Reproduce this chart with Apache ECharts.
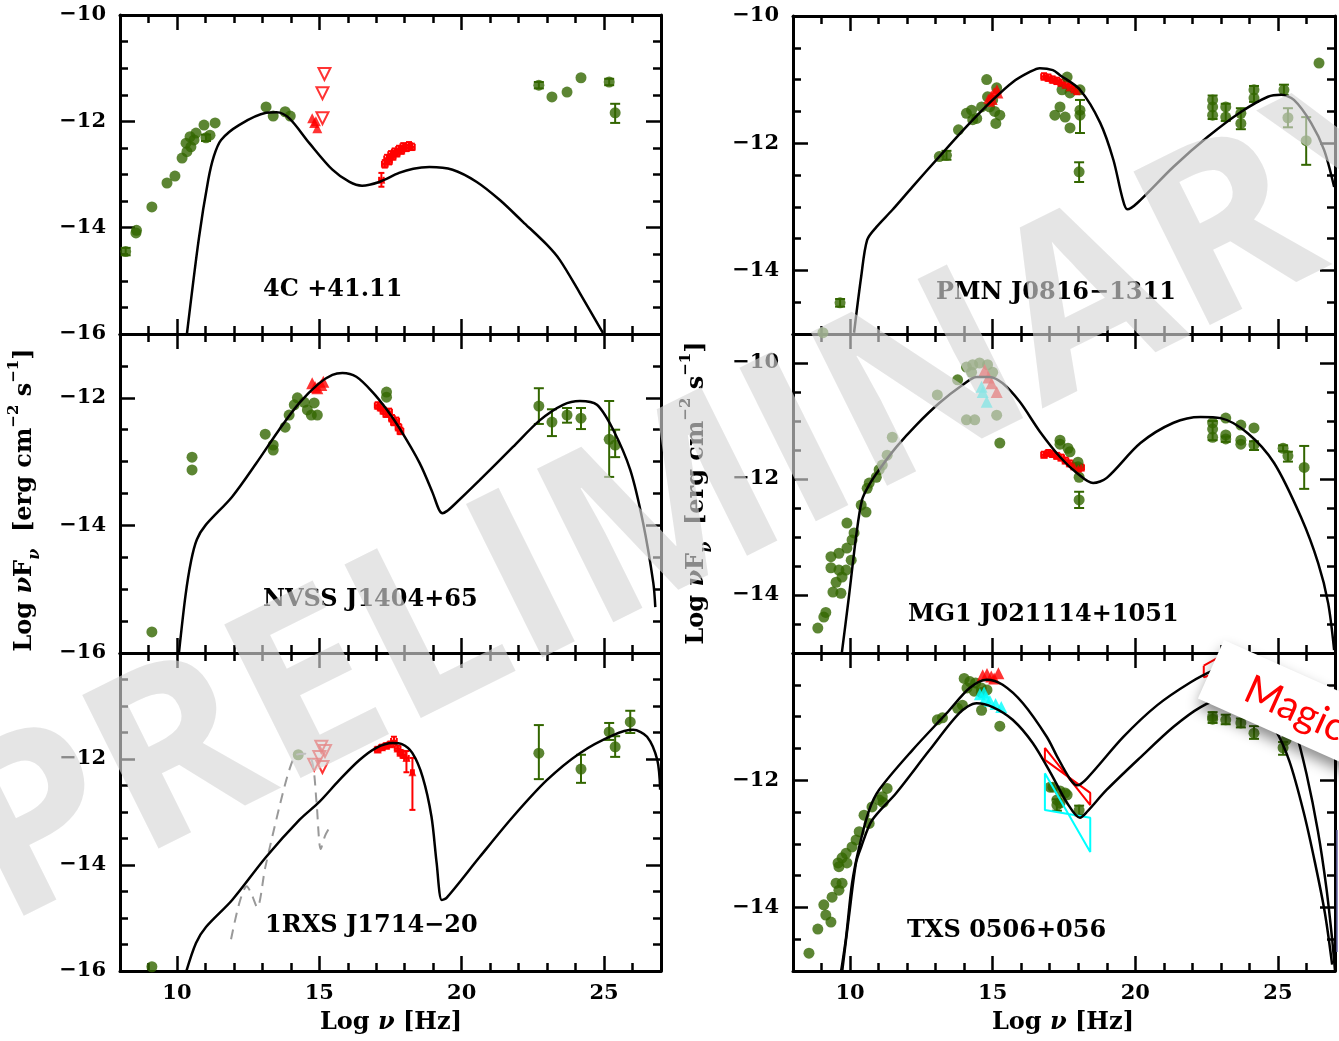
<!DOCTYPE html>
<html><head><meta charset="utf-8">
<script src="https://cdn.jsdelivr.net/npm/echarts@6/dist/echarts.min.js"></script>
<style>html,body{margin:0;padding:0;background:#fff}#c{width:1339px;height:1041px}</style>
</head><body><div id="c"></div>
<script>
// ---------- tick values ----------
const X_MAJOR = [10, 15, 20, 25];
const X_MINOR = [9, 11, 12, 13, 14, 16, 17, 18, 19, 21, 22, 23, 24, 26];
const Y_MAJOR_16_10 = [-16, -14, -12, -10];
const Y_MINOR_16_10 = [-15.5, -15, -14.5, -13.5, -13, -12.5, -11.5, -11, -10.5];
const Y_MAJOR_16_11 = [-16, -14, -12];
const Y_MINOR_16_11 = [-15.5, -15, -14.5, -13.5, -13, -12.5, -11.5];
const Y_MAJOR_15 = [-14, -12, -10];
const Y_MINOR_15 = [-14.5, -13.5, -13, -12.5, -11.5, -11, -10.5];
const LABELS_L1 = [-16, -14, -12, -10];
const LABELS_L2 = [-16, -14, -12];
const LABELS_L3 = [-16, -14, -12];
const LABELS_R1 = [-14, -12, -10];
const LABELS_R2 = [-14, -12, -10];
const LABELS_R3 = [-14, -12];
const NAMES = ['4C +41.11', 'NVSS J1404+65', '1RXS J1714\u221220', 'PMN J0816\u22121311', 'MG1 J021114+1051', 'TXS 0506+056'];

// ---------- panel 1: 4C +41.11 ----------
const p1_model = [[10.35,-16.0],[10.77,-14.2],[11.1,-13.1],[11.3,-12.65],[11.55,-12.35],[12.18,-12.07],[13.13,-11.84],[13.5,-11.83],[13.94,-11.94],[14.65,-12.41],[15.46,-12.91],[16.06,-13.14],[16.5,-13.21],[17.1,-13.14],[17.8,-12.97],[18.3,-12.89],[18.87,-12.86],[19.68,-12.91],[20.53,-13.14],[21.34,-13.48],[22.15,-13.89],[22.99,-14.32],[23.45,-14.61],[24.15,-15.23],[24.96,-15.98]];
const p1_green = [[8.20,-14.45],[8.56,-14.10],[8.58,-14.05],[9.12,-13.61],[9.65,-13.16],[9.93,-13.03],[10.18,-12.69],[10.35,-12.57],[10.32,-12.41],[10.49,-12.48],[10.46,-12.29],[10.67,-12.22],[10.60,-12.35],[10.95,-12.07],[11.02,-12.31],[11.16,-12.26],[11.34,-12.03],[13.13,-11.73],[13.38,-11.90],[13.80,-11.82],[13.98,-11.90],[22.71,-11.32],[23.17,-11.54],[23.70,-11.45],[24.19,-11.18],[25.18,-11.26],[25.39,-11.84]];
const p1_greenErr = [[8.20,-14.38,-14.52],[11.02,-12.25,-12.37],[22.71,-11.26,-11.38],[25.18,-11.20,-11.32],[25.39,-11.67,-12.03]];
const p1_redLim = [[15.18,-11.11],[15.11,-11.47],[15.11,-11.94]];
const p1_redTri = [[14.75,-11.94],[14.82,-12.03],[14.93,-12.13],[14.88,-12.0]];
const p1_xray = [[17.18,-13.10,0.08,-12.97,-13.23],[17.30,-12.80,0.1,-12.73,-12.87],[17.38,-12.70,0.1,-12.63,-12.77],[17.45,-12.74,0.1,-12.67,-12.81],[17.52,-12.62,0.1,-12.56,-12.68],[17.58,-12.66,0.1,-12.60,-12.72],[17.65,-12.57,0.1,-12.51,-12.63],[17.72,-12.60,0.1,-12.54,-12.66],[17.80,-12.52,0.1,-12.46,-12.58],[17.88,-12.55,0.1,-12.49,-12.61],[17.95,-12.47,0.1,-12.41,-12.53],[18.05,-12.50,0.1,-12.44,-12.56],[18.15,-12.45,0.1,-12.39,-12.51],[18.25,-12.48,0.1,-12.42,-12.54]];

// ---------- panel 2: NVSS J1404+65 ----------
const p2_model = [[10.07,-16.0],[10.3,-15.1],[10.5,-14.55],[10.7,-14.22],[11.0,-14.0],[11.94,-13.55],[12.78,-13.03],[13.59,-12.50],[14.30,-12.08],[15.0,-11.77],[15.46,-11.64],[15.81,-11.61],[16.30,-11.67],[16.87,-11.91],[17.36,-12.18],[17.82,-12.48],[18.52,-13.02],[18.98,-13.49],[19.2,-13.75],[19.33,-13.81],[19.5,-13.77],[19.68,-13.70],[20.63,-13.29],[21.80,-12.77],[22.75,-12.35],[23.56,-12.11],[24.15,-12.05],[24.75,-12.11],[25.32,-12.50],[25.92,-13.13],[26.37,-13.96],[26.73,-14.90],[26.80,-15.28]];
const p2_green = [[9.12,-15.67],[10.53,-12.93],[10.53,-13.13],[13.10,-12.57],[13.38,-12.74],[13.38,-12.82],[13.80,-12.46],[13.94,-12.27],[14.12,-12.11],[14.23,-12.0],[14.47,-12.07],[14.58,-12.19],[14.82,-12.08],[14.93,-12.27],[14.72,-12.27],[17.36,-11.91],[17.36,-11.99],[22.71,-12.13],[23.17,-12.38],[23.70,-12.27],[24.19,-12.32],[25.18,-12.65],[25.39,-12.74]];
const p2_greenErr = [[22.71,-11.85,-12.41],[23.17,-12.18,-12.60],[23.70,-12.16,-12.39],[24.19,-12.16,-12.49],[25.18,-12.05,-13.24],[25.39,-12.50,-12.93]];
const p2_redTri = [[14.75,-11.77],[15.07,-11.80],[14.93,-11.85],[15.14,-11.75],[14.85,-11.83]];
const p2_xray = [[17.05,-12.12,0.1,-12.07,-12.17],[17.15,-12.15,0.1,-12.10,-12.20],[17.25,-12.20,0.1,-12.15,-12.25],[17.35,-12.25,0.1,-12.20,-12.30],[17.45,-12.22,0.1,-12.17,-12.27],[17.55,-12.32,0.1,-12.27,-12.37],[17.62,-12.38,0.1,-12.33,-12.43],[17.70,-12.36,0.1,-12.31,-12.41],[17.78,-12.46,0.1,-12.41,-12.51],[17.85,-12.52,0.1,-12.47,-12.57]];

// ---------- panel 3: 1RXS J1714-20 ----------
const p3_model = [[10.32,-16.02],[10.67,-15.47],[11.02,-15.17],[11.94,-14.66],[13.13,-13.85],[14.30,-13.15],[15.0,-12.81],[15.70,-12.40],[16.41,-12.02],[17.0,-11.79],[17.57,-11.70],[17.9,-11.72],[18.27,-11.89],[18.63,-12.34],[18.94,-13.09],[19.12,-13.96],[19.30,-14.66],[19.47,-14.62],[20.63,-13.85],[21.80,-13.09],[22.99,-12.40],[24.15,-11.89],[25.32,-11.55],[26.02,-11.45],[26.51,-11.58],[26.87,-12.02],[26.97,-12.58]];
const p3_dash = [[11.9,-15.4],[12.2,-14.7],[12.45,-14.4],[12.62,-14.55],[12.82,-14.8],[13.1,-14.05],[13.6,-12.9],[13.95,-12.2],[14.2,-11.92],[14.5,-11.9],[14.75,-12.05],[14.9,-12.8],[15.05,-13.7],[15.2,-13.45],[15.35,-13.3]];
const p3_green = [[9.12,-15.92],[14.26,-11.92],[22.71,-11.89],[24.19,-12.19],[25.18,-11.49],[25.39,-11.77],[25.92,-11.30]];
const p3_greenErr = [[22.71,-11.36,-12.38],[24.19,-11.92,-12.45],[25.18,-11.32,-11.64],[25.39,-11.57,-11.96],[25.92,-11.09,-11.51]];
const p3_redLim = [[15.07,-11.77],[15.0,-11.96],[15.11,-12.15],[14.82,-12.11],[15.2,-11.85]];
const p3_xray = [[17.05,-11.82,0.1,-11.77,-11.87],[17.2,-11.78,0.1,-11.73,-11.83],[17.35,-11.75,0.1,-11.70,-11.80],[17.5,-11.72,0.1,-11.67,-11.77],[17.62,-11.66,0.1,-11.58,-11.72],[17.75,-11.80,0.1,-11.75,-11.85],[17.85,-11.88,0.1,-11.83,-11.93],[17.95,-11.92,0.1,-11.86,-11.98],[18.06,-11.98,0.08,-11.85,-12.25],[18.27,-12.25,0.05,-11.98,-12.96]];

// ---------- panel 4: PMN J0816-1311 ----------
const r1_model = [[10.14,-14.98],[10.39,-14.10],[10.60,-13.52],[10.92,-13.32],[11.48,-13.05],[12.18,-12.69],[13.13,-12.21],[14.08,-11.74],[15.0,-11.32],[15.70,-11.04],[16.30,-10.88],[16.65,-10.82],[17.11,-10.85],[17.36,-10.93],[18.06,-11.16],[18.77,-11.68],[19.23,-12.26],[19.54,-12.85],[19.72,-13.04],[20.07,-12.94],[21.34,-12.37],[22.54,-11.90],[23.70,-11.51],[24.65,-11.27],[25.11,-11.24],[25.56,-11.32],[26.16,-11.68],[26.62,-12.11],[26.97,-12.69]];
const r1_green = [[9.05,-14.98],[9.65,-14.51],[13.13,-12.21],[13.38,-12.19],[13.80,-11.79],[14.08,-11.53],[14.26,-11.48],[14.44,-11.61],[14.61,-11.43],[14.79,-11.0],[14.82,-11.27],[15.0,-11.32],[15.07,-11.50],[15.14,-11.13],[15.25,-11.56],[15.11,-11.69],[14.89,-11.43],[14.30,-11.63],[17.61,-10.96],[17.43,-11.16],[17.71,-11.21],[18.06,-11.16],[17.36,-11.43],[17.18,-11.56],[17.54,-11.59],[17.71,-11.76],[18.06,-11.48],[18.06,-11.56],[18.03,-12.45],[22.71,-11.32],[22.71,-11.56],[22.71,-11.43],[23.17,-11.43],[23.17,-11.59],[23.70,-11.53],[23.70,-11.69],[24.16,-11.16],[24.16,-11.29],[25.21,-11.16],[25.35,-11.60],[25.99,-11.96],[26.44,-10.74]];
const r1_greenErr = [[9.65,-14.45,-14.57],[13.38,-12.12,-12.26],[18.06,-11.32,-11.84],[18.03,-12.30,-12.61],[22.71,-11.25,-11.62],[23.17,-11.38,-11.65],[23.70,-11.45,-11.78],[24.16,-11.10,-11.35],[25.21,-11.08,-11.24],[25.35,-11.45,-11.75],[25.99,-11.59,-12.34]];
const r1_redTri = [[14.85,-11.30],[14.95,-11.25],[15.05,-11.20],[15.15,-11.15],[15.0,-11.32],[15.2,-11.22],[14.9,-11.35]];
const r1_xray = [[16.8,-10.95,0.1,-10.90,-11.00],[16.95,-10.97,0.1,-10.92,-11.02],[17.1,-11.0,0.1,-10.95,-11.05],[17.25,-11.02,0.1,-10.97,-11.07],[17.4,-11.05,0.1,-11.00,-11.10],[17.55,-11.08,0.1,-11.03,-11.13],[17.7,-11.12,0.1,-11.07,-11.17],[17.85,-11.15,0.1,-11.10,-11.20],[17.95,-11.18,0.1,-11.13,-11.23]];

// ---------- panel 5: MG1 J021114+1051 ----------
const r2_model = [[9.68,-15.12],[9.96,-14.03],[10.21,-13.0],[10.42,-12.36],[10.67,-12.10],[11.02,-11.84],[11.62,-11.45],[12.32,-11.07],[13.13,-10.69],[13.94,-10.38],[14.44,-10.24],[14.89,-10.24],[15.35,-10.35],[15.95,-10.67],[16.65,-11.18],[17.36,-11.62],[17.96,-11.90],[18.52,-12.07],[19.0,-11.98],[20.18,-11.38],[21.34,-11.03],[22.29,-10.93],[22.99,-10.95],[23.94,-11.21],[24.86,-11.72],[25.81,-12.66],[26.41,-13.45],[26.76,-14.14],[26.97,-14.95]];
const r2_green = [[8.87,-14.57],[9.08,-14.38],[9.15,-14.30],[9.40,-13.95],[9.68,-13.97],[9.51,-13.78],[9.72,-13.69],[9.61,-13.57],[9.86,-13.57],[9.33,-13.53],[9.33,-13.34],[9.61,-13.28],[9.89,-13.19],[10.04,-13.40],[10.07,-13.05],[10.14,-12.93],[10.60,-12.16],[10.67,-12.07],[10.92,-11.97],[11.02,-11.84],[11.13,-11.76],[9.89,-12.76],[10.39,-12.45],[10.56,-12.57],[11.30,-11.59],[11.48,-11.28],[13.06,-10.55],[13.77,-10.29],[14.08,-10.07],[14.30,-10.03],[14.54,-10.0],[14.82,-10.03],[15.0,-10.16],[14.26,-10.16],[14.08,-10.98],[14.37,-10.98],[15.14,-10.90],[15.25,-11.38],[17.36,-11.33],[17.36,-11.40],[17.64,-11.47],[17.71,-11.53],[17.99,-11.71],[17.99,-11.79],[18.03,-11.97],[18.03,-12.36],[22.71,-11.03],[22.71,-11.14],[22.71,-11.28],[23.17,-10.95],[23.17,-11.24],[23.17,-11.31],[23.70,-11.07],[23.70,-11.33],[23.70,-11.40],[24.16,-11.12],[24.16,-11.41],[25.18,-11.47],[25.35,-11.60],[25.92,-11.80]];
const r2_greenErr = [[18.03,-12.22,-12.50],[22.71,-11.0,-11.33],[23.17,-11.27,-11.36],[24.16,-11.35,-11.50],[25.18,-11.42,-11.52],[25.35,-11.53,-11.70],[25.92,-11.43,-12.17]];
const r2_redTri = [[14.72,-10.12],[14.96,-10.35],[15.14,-10.50],[14.85,-10.25]];
const r2_cyanTri = [[14.61,-10.41],[14.65,-10.50],[14.79,-10.67]];
const r2_xray = [[16.8,-11.58,0.1,-11.53,-11.63],[16.95,-11.55,0.1,-11.50,-11.60],[17.1,-11.57,0.1,-11.52,-11.62],[17.25,-11.60,0.1,-11.55,-11.65],[17.4,-11.63,0.1,-11.58,-11.68],[17.55,-11.68,0.1,-11.63,-11.73],[17.7,-11.73,0.1,-11.68,-11.78],[17.85,-11.78,0.1,-11.73,-11.83],[18.0,-11.82,0.1,-11.77,-11.87],[18.1,-11.80,0.1,-11.75,-11.85]];

// ---------- panel 6: TXS 0506+056 ----------
const r3_modelHigh = [[9.68,-15.02],[9.86,-14.47],[10.07,-13.62],[10.32,-13.05],[10.67,-12.47],[11.02,-12.15],[12.18,-11.53],[13.38,-10.95],[14.19,-10.55],[14.79,-10.42],[15.35,-10.50],[16.06,-10.79],[16.90,-11.32],[17.25,-11.62],[17.71,-11.98],[17.96,-12.08],[18.31,-11.97],[19.58,-11.32],[20.77,-10.82],[21.94,-10.46],[22.75,-10.27],[23.6,-10.12],[24.4,-10.2],[25.1,-10.6],[25.6,-11.2],[26.0,-11.9],[26.4,-12.8],[26.7,-13.7],[26.9,-14.5],[27.0,-15.0]];
const r3_modelLow = [[9.72,-15.02],[9.96,-14.15],[10.21,-13.30],[10.39,-13.05],[10.77,-12.63],[11.62,-12.20],[12.78,-11.53],[13.84,-10.94],[14.44,-10.79],[15.0,-10.85],[15.70,-11.05],[16.41,-11.42],[17.11,-11.95],[17.6,-12.35],[18.06,-12.59],[18.3,-12.5],[19.0,-12.15],[20.18,-11.64],[21.34,-11.16],[22.29,-10.85],[22.99,-10.74],[23.7,-10.78],[24.4,-10.95],[24.9,-11.2],[25.4,-11.7],[25.9,-12.5],[26.3,-13.3],[26.65,-14.1],[26.9,-14.9]];
const r3_green = [[8.56,-14.72],[8.87,-14.34],[9.15,-14.12],[9.33,-14.23],[9.08,-13.96],[9.37,-13.84],[9.61,-13.73],[9.51,-13.62],[9.72,-13.62],[9.61,-13.36],[9.72,-13.22],[9.58,-13.30],[9.86,-13.15],[9.89,-13.30],[10.07,-13.05],[10.21,-12.94],[10.32,-12.81],[10.49,-12.55],[10.67,-12.68],[10.77,-12.42],[11.02,-12.31],[11.13,-12.26],[11.30,-12.13],[11.16,-12.35],[13.06,-11.05],[13.24,-11.02],[13.77,-10.87],[13.94,-10.82],[14.0,-10.40],[14.2,-10.45],[14.4,-10.47],[14.6,-10.55],[14.1,-10.55],[14.35,-10.6],[14.6,-10.62],[14.8,-10.58],[14.61,-10.90],[15.25,-11.15],[17.01,-12.11],[17.11,-12.11],[17.25,-12.31],[17.25,-12.39],[17.36,-12.36],[17.36,-12.17],[17.54,-12.20],[17.61,-12.23],[18.03,-12.47],[22.71,-11.0],[22.71,-11.04],[23.17,-11.05],[23.70,-11.10],[24.16,-11.26],[25.28,-11.37],[25.18,-11.49]];
const r3_greenErr = [[17.25,-12.30,-12.48],[18.03,-12.40,-12.55],[22.71,-10.93,-11.10],[23.17,-10.97,-11.12],[23.70,-11.03,-11.17],[24.16,-11.15,-11.35],[25.18,-11.40,-11.60]];
const r3_redTri = [[14.65,-10.35],[14.8,-10.33],[14.95,-10.37],[15.2,-10.32],[15.05,-10.40]];
const r3_cyanTri = [[14.55,-10.65],[14.75,-10.70],[14.9,-10.75],[15.1,-10.80],[15.3,-10.85],[14.7,-10.62]];
const r3_bowRed = [[16.83,-11.49],[18.42,-12.39],[18.42,-12.20],[16.83,-11.68],[16.83,-11.49]];
const r3_bowCyan = [[16.83,-11.89],[18.42,-13.13],[18.42,-12.59],[16.83,-12.47],[16.83,-11.89]];
const r3_bowGamma = [[22.4,-10.2],[23.0,-10.05],[23.0,-10.3],[22.4,-10.38],[22.4,-10.2]];

// ---------- styling ----------
const FONT = 'DejaVu Serif';
const GREEN = '#336600', RED = '#ff0000', CYAN = '#00ffff';

const panels = [
  {left:120, top:15,  width:541, height:319, ymin:-16, ymax:-10, maj:Y_MAJOR_16_10, min:Y_MINOR_16_10, lab:LABELS_L1, showX:false},
  {left:120, top:334, width:541, height:319, ymin:-16, ymax:-11, maj:Y_MAJOR_16_11, min:Y_MINOR_16_11, lab:LABELS_L2, showX:false},
  {left:120, top:653, width:541, height:318, ymin:-16, ymax:-10, maj:Y_MAJOR_16_10, min:Y_MINOR_16_10, lab:LABELS_L3, showX:true},
  {left:793, top:16,  width:542, height:318, ymin:-15, ymax:-10, maj:Y_MAJOR_15, min:Y_MINOR_15, lab:LABELS_R1, showX:false},
  {left:793, top:334, width:542, height:319, ymin:-15, ymax:-9.5, maj:Y_MAJOR_15, min:Y_MINOR_15, lab:LABELS_R2, showX:false},
  {left:793, top:653, width:542, height:318, ymin:-15, ymax:-10, maj:Y_MAJOR_15, min:Y_MINOR_15, lab:LABELS_R3, showX:true}
];

const tickStyle = {color:'#000', width:2.5};
const labFont = {color:'#000', fontFamily:FONT, fontWeight:'bold', fontSize:21};
const grids = [], xAxes = [], yAxes = [];
panels.forEach((p, gi) => {
  grids.push({left:p.left, top:p.top, width:p.width, height:p.height, containLabel:false, outerBoundsMode:'none'});
  const xb = {gridIndex:gi, type:'value', min:8, max:27, splitLine:{show:false}};
  ['bottom','top'].forEach(pos => {
    xAxes.push(Object.assign({}, xb, {position:pos, axisLine:{show:true, onZero:false, lineStyle:{color:'#000', width:3}},
      axisTick:{show:true, inside:true, length:15, customValues:X_MAJOR, lineStyle:tickStyle},
      axisLabel:Object.assign({show:pos==='bottom' && p.showX, customValues:X_MAJOR, margin:12}, labFont)}));
    xAxes.push(Object.assign({}, xb, {position:pos, axisLine:{show:false},
      axisTick:{show:true, inside:true, length:8, customValues:X_MINOR, lineStyle:tickStyle},
      axisLabel:{show:false}}));
  });
  const yb = {gridIndex:gi, type:'value', min:p.ymin, max:p.ymax, splitLine:{show:false}};
  ['left','right'].forEach(pos => {
    yAxes.push(Object.assign({}, yb, {position:pos, axisLine:{show:true, onZero:false, lineStyle:{color:'#000', width:3}},
      axisTick:{show:true, inside:true, length:15, customValues:p.maj, lineStyle:tickStyle},
      axisLabel:Object.assign({show:pos==='left', customValues:p.lab, margin:14,
        formatter: v => (v < 0 ? '\u2212' : '') + Math.abs(v)}, labFont)}));
    yAxes.push(Object.assign({}, yb, {position:pos, axisLine:{show:false},
      axisTick:{show:true, inside:true, length:8, customValues:p.min, lineStyle:tickStyle},
      axisLabel:{show:false}}));
  });
});

// ---------- series helpers ----------
const series = [];
function ax(gi){ return {xAxisIndex:gi*4, yAxisIndex:gi*4}; }
function curve(gi, data, opt){
  series.push(Object.assign({type:'line', data:data, showSymbol:false, symbol:'none', smooth:0.3, clip:true, z:5,
    lineStyle:{color:'#000', width:2.5}}, ax(gi), opt || {}));
}
function polyline(gi, data, color){
  series.push(Object.assign({type:'line', data:data, showSymbol:false, symbol:'none', smooth:false, clip:true, z:4,
    lineStyle:{color:color, width:2}}, ax(gi)));
}
function dots(gi, data, color, size){
  series.push(Object.assign({type:'scatter', data:data, symbol:'circle', symbolSize:size || 11, z:3,
    itemStyle:{color:color}}, ax(gi)));
}
function tris(gi, data, color, size){
  series.push(Object.assign({type:'scatter', data:data, symbol:'triangle', symbolSize:size || 10, z:3,
    itemStyle:{color:color}}, ax(gi)));
}
function limits(gi, data, color){
  series.push(Object.assign({type:'scatter', data:data, symbol:'triangle', symbolRotate:180, symbolSize:12, z:3,
    itemStyle:{color:'rgba(255,255,255,0)', borderColor:color, borderWidth:2}}, ax(gi)));
}
function seg(x1,y1,x2,y2,color){ return {type:'line', shape:{x1:x1,y1:y1,x2:x2,y2:y2}, style:{stroke:color, lineWidth:2}}; }
function yerr(gi, data, color){
  series.push(Object.assign({type:'custom', data:data, z:3, encode:{x:0, y:[1,2]},
    renderItem:function(params, api){
      const a = api.coord([api.value(0), api.value(1)]), b = api.coord([api.value(0), api.value(2)]);
      const c = 5;
      return {type:'group', children:[seg(a[0],a[1],b[0],b[1],color), seg(a[0]-c,a[1],a[0]+c,a[1],color), seg(b[0]-c,b[1],b[0]+c,b[1],color)]};
    }}, ax(gi)));
}
function xray(gi, data, color){
  series.push(Object.assign({type:'custom', data:data, z:3, encode:{x:0, y:1},
    renderItem:function(params, api){
      const x = api.value(0), y = api.value(1), ex = api.value(2);
      const l = api.coord([x-ex, y]), r = api.coord([x+ex, y]);
      const t = api.coord([x, api.value(3)]), b = api.coord([x, api.value(4)]);
      const c = 3;
      return {type:'group', children:[
        seg(l[0],l[1],r[0],r[1],color), seg(l[0],l[1]-c,l[0],l[1]+c,color), seg(r[0],r[1]-c,r[0],r[1]+c,color),
        seg(t[0],t[1],b[0],b[1],color), seg(t[0]-c,t[1],t[0]+c,t[1],color), seg(b[0]-c,b[1],b[0]+c,b[1],color)]};
    }}, ax(gi)));
  tris(gi, data.map(d => [d[0], d[1]]), color, 8);
}

// panel 1
dots(0, p1_green, GREEN); yerr(0, p1_greenErr, GREEN);
limits(0, p1_redLim, RED); tris(0, p1_redTri, RED); xray(0, p1_xray, RED);
curve(0, p1_model);
// panel 2
dots(1, p2_green, GREEN); yerr(1, p2_greenErr, GREEN);
tris(1, p2_redTri, RED, 12); xray(1, p2_xray, RED);
curve(1, p2_model);
// panel 3
series.push(Object.assign({type:'line', data:p3_dash, showSymbol:false, symbol:'none', smooth:0.3, z:4,
  lineStyle:{color:'#999', width:2, type:[10,7]}}, ax(2)));
dots(2, p3_green, GREEN); yerr(2, p3_greenErr, GREEN);
limits(2, p3_redLim, RED); xray(2, p3_xray, RED);
curve(2, p3_model);
// panel 4
dots(3, r1_green, GREEN); yerr(3, r1_greenErr, GREEN);
tris(3, r1_redTri, RED); xray(3, r1_xray, RED);
curve(3, r1_model);
// panel 5
dots(4, r2_green, GREEN); yerr(4, r2_greenErr, GREEN);
tris(4, r2_redTri, RED, 12); tris(4, r2_cyanTri, CYAN, 12); xray(4, r2_xray, RED);
curve(4, r2_model);
// panel 6
dots(5, r3_green, GREEN); yerr(5, r3_greenErr, GREEN);
tris(5, r3_redTri, RED, 12); tris(5, r3_cyanTri, CYAN, 12);
polyline(5, r3_bowRed, RED); polyline(5, r3_bowCyan, CYAN); polyline(5, r3_bowGamma, RED);
curve(5, r3_modelHigh); curve(5, r3_modelLow);

// ---------- graphics: titles, names, watermark, sticker ----------
const nameFont = 'bold 24px "DejaVu Serif"';
const namePos = [[263,290],[263,600],[265,926],[936,293],[908,615],[907,931]];
const graphics = NAMES.map((n, i) => ({type:'text', x:namePos[i][0], y:namePos[i][1], z:50,
  style:{text:n, font:nameFont, fill:'#000', align:'left', verticalAlign:'middle', textAlign:'left', textVerticalAlign:'middle'}}));

const rich = {
  a:{fontFamily:FONT, fontWeight:'bold', fontSize:24, lineHeight:36, verticalAlign:'middle'},
  i:{fontFamily:FONT, fontWeight:'bold', fontStyle:'italic', fontSize:24, lineHeight:36, verticalAlign:'middle'},
  s:{fontFamily:FONT, fontWeight:'bold', fontStyle:'italic', fontSize:16, lineHeight:36, verticalAlign:'bottom'},
  p:{fontFamily:FONT, fontWeight:'bold', fontSize:15, lineHeight:36, verticalAlign:'top'}
};
const ytitle = '{a|Log }{i|\u03bd}{a|F}{s|\u03bd}{a|  [erg cm}{p|\u22122}{a| s}{p|\u22121}{a|]}';
const xtitle = '{a|Log }{i|\u03bd}{a| [Hz]}';
[[25,500],[697,493]].forEach(pt => graphics.push({type:'text', x:pt[0], y:pt[1], rotation:Math.PI/2, z:50,
  style:{text:ytitle, rich:rich, fill:'#000', align:'center', verticalAlign:'middle', textAlign:'center', textVerticalAlign:'middle'}}));
[[391,1023],[1063,1023]].forEach(pt => graphics.push({type:'text', x:pt[0], y:pt[1], z:50,
  style:{text:xtitle, rich:rich, fill:'#000', align:'center', verticalAlign:'middle', textAlign:'center', textVerticalAlign:'middle'}}));

// watermark
graphics.push({type:'text', x:705, y:500, rotation:0.462, z:200,
  style:{text:'PRELIMINARY', font:'bold 240px "Open Sans"', fill:'rgba(214,214,214,0.64)', align:'center', verticalAlign:'middle', textAlign:'center', textVerticalAlign:'middle'}});
// blue edge mark
graphics.push({type:'line', z:210, shape:{x1:1337, y1:830, x2:1337, y2:952}, style:{stroke:'#6a6aa8', lineWidth:1.5}});
// sticker
graphics.push({type:'group', x:1224, y:640, rotation:-0.42, z:300, children:[
  {type:'rect', z:300, shape:{x:0, y:0, width:320, height:64}, style:{fill:'#fff', shadowBlur:14, shadowColor:'rgba(0,0,0,0.45)', shadowOffsetX:0, shadowOffsetY:8}},
  {type:'text', z:301, x:40, y:34, style:{text:'Magic', font:'40px Lato', fill:'#ff0000', align:'left', verticalAlign:'middle', textAlign:'left', textVerticalAlign:'middle'}}
]});

const chart = echarts.init(document.getElementById('c'), null, {renderer:'canvas'});
chart.setOption({
  animation:false,
  backgroundColor:'#fff',
  grid:grids, xAxis:xAxes, yAxis:yAxes, series:series,
  graphic:{elements:graphics}
});
</script></body></html>
